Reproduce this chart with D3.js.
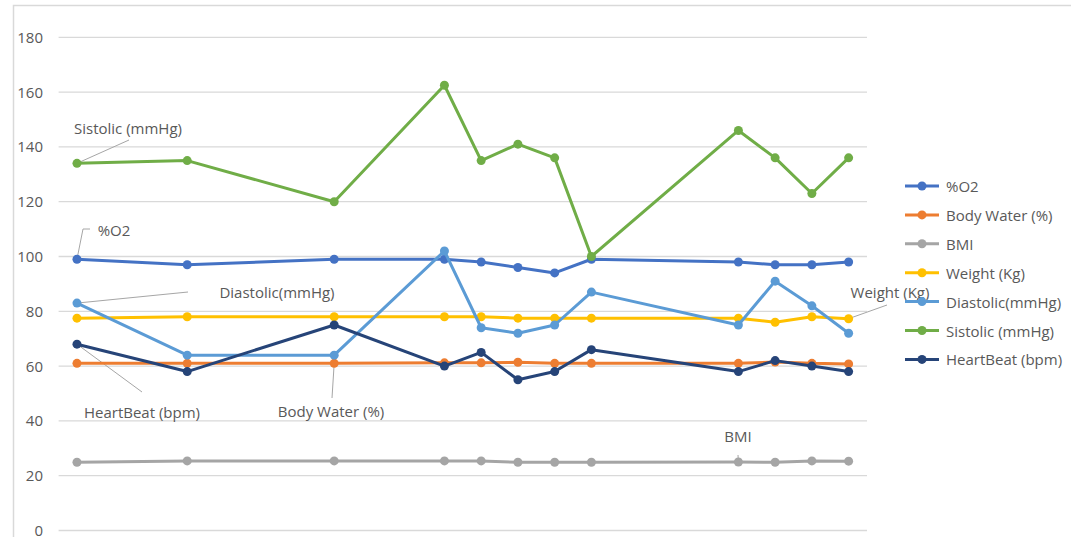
<!DOCTYPE html>
<html>
<head>
<meta charset="utf-8">
<script src="https://cdn.jsdelivr.net/npm/d3@7"></script>
<style>
  html, body { margin: 0; padding: 0; background: #fff; }
  svg { display: block; font-family: "Open Sans", "Noto Sans", sans-serif; }
</style>
</head>
<body>
<svg id="chart" width="1071" height="537"></svg>
<script>
// day offsets of each reading (date axis, gaps between days)
const days = [0, 3, 7, 10, 11, 12, 13, 14, 18, 19, 20, 21];

const o2        = [99, 97, 99, 99, 98, 96, 94, 99, 98, 97, 97, 98];
const bodyWater = [61, 61, 61, 61.2, 61.2, 61.4, 61, 61, 61, 61.5, 61, 60.8];
const bmi       = [24.9, 25.4, 25.4, 25.4, 25.4, 24.9, 24.9, 24.9, 25, 24.9, 25.4, 25.3];
const weight    = [77.5, 78, 78, 78, 78, 77.5, 77.5, 77.5, 77.5, 76, 78, 77.3];
const diastolic = [83, 64, 64, 102, 74, 72, 75, 87, 75, 91, 82, 72];
const sistolic  = [134, 135, 120, 162.5, 135, 141, 136, 100, 146, 136, 123, 136];
const heartBeat = [68, 58, 75, 60, 65, 55, 58, 66, 58, 62, 60, 58];

const yTicks = [0, 20, 40, 60, 80, 100, 120, 140, 160, 180];

const series = [
  { name: '%O2',              values: o2,        color: '#4472C4' },
  { name: 'Body Water (%)',   values: bodyWater, color: '#ED7D31' },
  { name: 'BMI',              values: bmi,       color: '#A5A5A5' },
  { name: 'Weight (Kg)',      values: weight,    color: '#FFC000' },
  { name: 'Diastolic(mmHg)',  values: diastolic, color: '#5B9BD5' },
  { name: 'Sistolic (mmHg)',  values: sistolic,  color: '#70AD47' },
  { name: 'HeartBeat (bpm)',  values: heartBeat, color: '#264478' },
];

// data labels: series name, point index, label centre, leader end (+ optional elbow)
const callouts = [
  { name: 'Sistolic (mmHg)', i: 0,  lx: 128, ly: 128, ex: 129, ey: 140 },
  { name: '%O2',             i: 0,  lx: 114, ly: 230, ex: 83,  ey: 229, elbow: 90 },
  { name: 'Diastolic(mmHg)', i: 0,  lx: 277, ly: 292, ex: 188, ey: 292 },
  { name: 'HeartBeat (bpm)', i: 0,  lx: 142, ly: 412, ex: 142, ey: 392 },
  { name: 'Body Water (%)',  i: 2,  lx: 331, ly: 411, ex: 332, ey: 398 },
  { name: 'Weight (Kg)',     i: 11, lx: 890, ly: 292, ex: 887, ey: 305 },
  { name: 'BMI',             i: 8,  lx: 738, ly: 436, ex: 738, ey: 455 },
];

const svg = d3.select('#chart');

// chart area border (only top/left visible in frame)
svg.append('path')
  .attr('d', 'M13.5,537 L13.5,5.5 L1071,5.5')
  .attr('fill', 'none').attr('stroke', '#d9d9d9').attr('stroke-width', 1.5);

const x = d3.scaleLinear().domain([-0.5, 21.5]).range([58.6, 867]);
const y = d3.scaleLinear().domain([0, 180]).range([530.5, 37.3]);

// gridlines
svg.append('g').selectAll('line').data(yTicks).join('line')
  .attr('x1', x(-0.5)).attr('x2', x(21.5))
  .attr('y1', d => y(d)).attr('y2', d => y(d))
  .attr('stroke', '#d9d9d9').attr('stroke-width', 1.3);

// y axis labels
svg.append('g').selectAll('text').data(yTicks).join('text')
  .attr('x', 43).attr('y', d => y(d) - 0.5)
  .attr('text-anchor', 'end').attr('dominant-baseline', 'central')
  .attr('fill', '#595959').style('font-size', '15px')
  .text(d => d);

// leader lines
const lead = svg.append('g');
callouts.forEach(c => {
  const s = series.find(s => s.name === c.name);
  const px = x(days[c.i]), py = y(s.values[c.i]);
  const pts = [[px, py], [c.ex, c.ey]];
  if (c.elbow) pts.push([c.elbow, c.ey]);
  lead.append('path')
    .attr('d', d3.line()(pts))
    .attr('fill', 'none').attr('stroke', '#a6a6a6').attr('stroke-width', 1);
});

// lines + markers
const line = d3.line().x((d, i) => x(days[i])).y(d => y(d));
const g = svg.append('g');
series.forEach(s => {
  g.append('path')
    .attr('d', line(s.values))
    .attr('fill', 'none').attr('stroke', s.color)
    .attr('stroke-width', 3).attr('stroke-linejoin', 'round');
  g.append('g').selectAll('circle').data(s.values).join('circle')
    .attr('cx', (d, i) => x(days[i])).attr('cy', d => y(d))
    .attr('r', 4.5).attr('fill', s.color);
});

// data labels
svg.append('g').selectAll('text').data(callouts).join('text')
  .attr('x', d => d.lx).attr('y', d => d.ly)
  .attr('text-anchor', 'middle').attr('dominant-baseline', 'central')
  .attr('fill', '#595959').style('font-size', '15px')
  .text(d => d.name);

// legend
const legend = svg.append('g').attr('transform', 'translate(905,186)');
const item = legend.selectAll('g').data(series).join('g')
  .attr('transform', (d, i) => `translate(0,${i * 28.9})`);
item.append('line')
  .attr('x1', 0).attr('x2', 34).attr('y1', 0).attr('y2', 0)
  .attr('stroke', d => d.color).attr('stroke-width', 3);
item.append('circle').attr('cx', 17).attr('cy', 0).attr('r', 4.5)
  .attr('fill', d => d.color);
item.append('text')
  .attr('x', 41).attr('y', 0).attr('dominant-baseline', 'central')
  .attr('fill', '#595959').style('font-size', '15px')
  .text(d => d.name);
</script>
</body>
</html>
